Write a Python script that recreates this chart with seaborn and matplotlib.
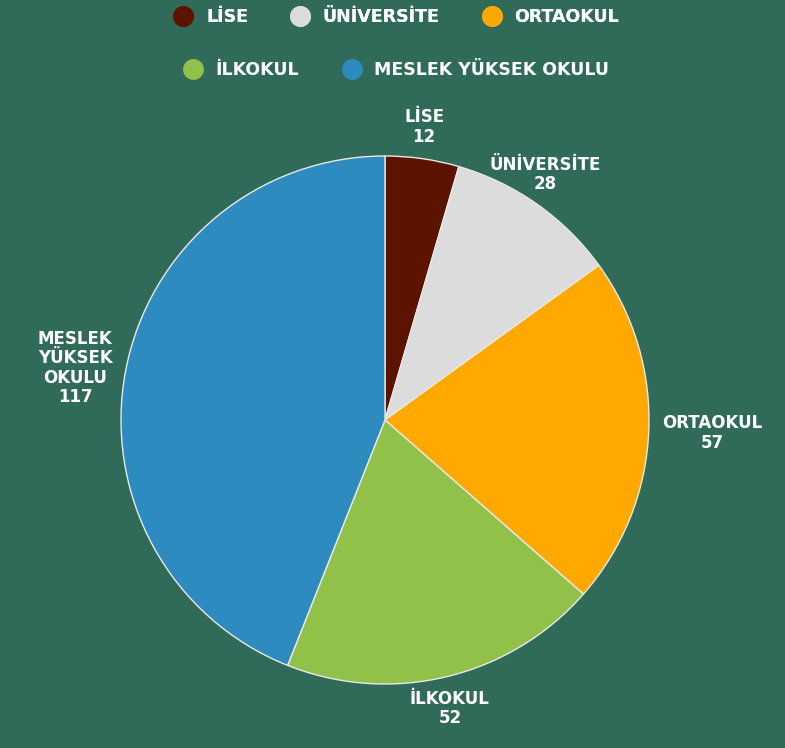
import seaborn as sns
import matplotlib.pyplot as plt
from matplotlib.lines import Line2D
import numpy as np

# data
categories = ["LİSE", "ÜNİVERSİTE", "ORTAOKUL", "İLKOKUL", "MESLEK YÜKSEK OKULU"]
label_text = ["LİSE", "ÜNİVERSİTE", "ORTAOKUL", "İLKOKUL", "MESLEK\nYÜKSEK\nOKULU"]
counts = [12, 28, 57, 52, 117]
colors = ["#5c1400", "#dcdcdc", "#ffa800", "#92c14a", "#2e8bbf"]

bg = "#2f6b58"

sns.set_theme(style="white")
plt.rcParams['font.family'] = ['DejaVu Sans']

fig = plt.figure(figsize=(7.85, 7.48), dpi=100)
fig.patch.set_facecolor(bg)
ax = fig.add_axes([0, 0, 1, 1])
ax.set_facecolor(bg)

cx, cy, r = 385, 328, 264
wedges, _ = ax.pie(counts, colors=colors, startangle=90, counterclock=False,
                   center=(cx, cy), radius=r, frame=True,
                   wedgeprops=dict(linewidth=1, edgecolor="#e8e8e8"))
ax.set_xlim(0, 785)
ax.set_ylim(0, 748)
ax.set_aspect('equal')
ax.axis('off')

# data labels outside each slice
for w, lab, n in zip(wedges, label_text, counts):
    ang = np.deg2rad((w.theta1 + w.theta2) / 2)
    dx, dy = np.cos(ang), np.sin(ang)
    tx, ty = cx + r * 1.05 * dx, cy + r * 1.05 * dy
    if abs(dx) > 0.7:
        ha = 'left' if dx > 0 else 'right'
        va = 'center'
    else:
        ha = 'center'
        va = 'bottom' if dy > 0 else 'top'
    ax.text(tx, ty, f"{lab}\n{n}", ha=ha, va=va, multialignment='center',
            color='white', fontsize=12, fontweight='bold', linespacing=1.1)

# legend in two rows
handles = [Line2D([0], [0], marker='o', linestyle='', markersize=15,
                  markerfacecolor=c, markeredgewidth=0) for c in colors]
leg1 = fig.legend(handles[:3], categories[:3], loc='center', bbox_to_anchor=(0.5, 1 - 17 / 748),
                  ncol=3, frameon=False, columnspacing=2.0, handletextpad=0.3,
                  labelcolor='white', prop=dict(weight='bold', size=12.5))
leg2 = fig.legend(handles[3:], categories[3:], loc='center', bbox_to_anchor=(0.5, 1 - 70 / 748),
                  ncol=2, frameon=False, columnspacing=2.0, handletextpad=0.3,
                  labelcolor='white', prop=dict(weight='bold', size=12.5))
fig.add_artist(leg1)

fig.savefig("out.png", dpi=100, facecolor=bg)
